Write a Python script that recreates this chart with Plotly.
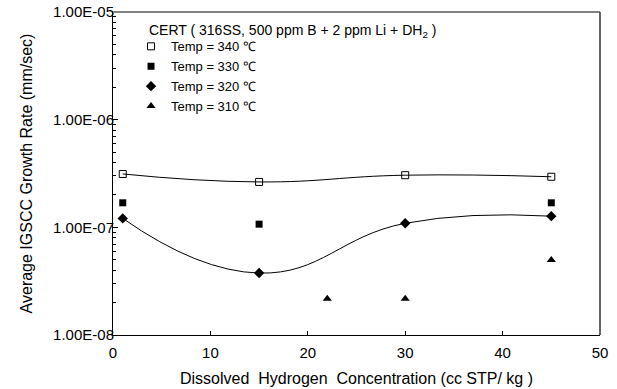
import plotly.graph_objects as go

# Data
x_340 = [1, 15, 30, 45]
y_340 = [3.13e-7, 2.64e-7, 3.05e-7, 2.95e-7]
x_330 = [1, 15, 45]
y_330 = [1.69e-7, 1.07e-7, 1.69e-7]
x_320 = [1, 15, 30, 45]
y_320 = [1.21e-7, 3.76e-8, 1.09e-7, 1.27e-7]
x_310 = [22, 30, 45]
y_310 = [2.17e-8, 2.17e-8, 4.97e-8]

names = ["Temp = 340 \u2103", "Temp = 330 \u2103", "Temp = 320 \u2103", "Temp = 310 \u2103"]
y_tickvals = [1e-8, 1e-7, 1e-6, 1e-5]
y_ticktext = ["1.00E-08", "1.00E-07", "1.00E-06", "1.00E-05"]
x_tickvals = [0, 10, 20, 30, 40, 50]

FONT = "Liberation Sans, Arial, sans-serif"

fig = go.Figure()

# smooth lines (no legend)
fig.add_trace(go.Scatter(x=x_340, y=y_340, mode="lines", line=dict(color="black", width=1, shape="spline", smoothing=1.3),
                         showlegend=False, hoverinfo="skip"))
fig.add_trace(go.Scatter(x=x_320, y=y_320, mode="lines", line=dict(color="black", width=1, shape="spline", smoothing=1.3),
                         showlegend=False, hoverinfo="skip"))

# markers
fig.add_trace(go.Scatter(x=x_340, y=y_340, mode="markers", name=names[0],
                         marker=dict(symbol="square-open", size=7, color="black", line=dict(width=1, color="black"))))
fig.add_trace(go.Scatter(x=x_330, y=y_330, mode="markers", name=names[1],
                         marker=dict(symbol="square", size=7, color="black")))
fig.add_trace(go.Scatter(x=x_320, y=y_320, mode="markers", name=names[2],
                         marker=dict(symbol="diamond", size=8, color="black")))
fig.add_trace(go.Scatter(x=x_310, y=y_310, mode="markers", name=names[3],
                         marker=dict(symbol="triangle-up", size=8, color="black")))

fig.update_layout(
    width=617, height=389,
    margin=dict(l=113, r=17, t=12, b=54),
    paper_bgcolor="white", plot_bgcolor="white",
    font=dict(family=FONT, size=14, color="black"),
    legend=dict(x=0.037, y=0.94, xanchor="left", yanchor="top",
                bgcolor="rgba(0,0,0,0)", font=dict(size=13), tracegroupgap=0),
    annotations=[dict(text="CERT ( 316SS, 500 ppm B + 2 ppm Li + DH<sub>2</sub> )",
                      xref="paper", yref="paper", x=0.07, y=0.975, xanchor="left", yanchor="top",
                      showarrow=False, font=dict(size=14))],
    shapes=[
        dict(type="line", xref="paper", yref="paper", x0=0, x1=1, y0=1, y1=1, line=dict(color="#808080", width=2)),
        dict(type="line", xref="paper", yref="paper", x0=1, x1=1, y0=0, y1=1, line=dict(color="#333333", width=1.5)),
    ],
)

fig.update_xaxes(
    range=[0, 50], tickvals=x_tickvals, ticks="inside", ticklen=4, tickcolor="black",
    showline=True, linecolor="black", linewidth=1, showgrid=False, zeroline=False,
    tickfont=dict(size=15), ticklabelstandoff=4, automargin=False,
    title=dict(text="Dissolved\u00a0 Hydrogen\u00a0 Concentration (cc STP/ kg )", font=dict(size=16), standoff=12),
)
fig.update_yaxes(
    type="log", range=[-8, -5], tickvals=y_tickvals, ticktext=y_ticktext,
    ticks="inside", ticklen=5, tickcolor="black",
    minor=dict(ticks="inside", ticklen=3, tickcolor="black", dtick="D1", showgrid=False),
    showline=True, linecolor="black", linewidth=1, showgrid=False, zeroline=False,
    tickfont=dict(size=15), ticklabelstandoff=-5, automargin=False,
    title=dict(text="Average IGSCC Growth Rate (mm/sec)", font=dict(size=16), standoff=16),
)

fig.write_html("out.html", post_script="document.body.style.margin='0';",
               config={"displayModeBar": False})
